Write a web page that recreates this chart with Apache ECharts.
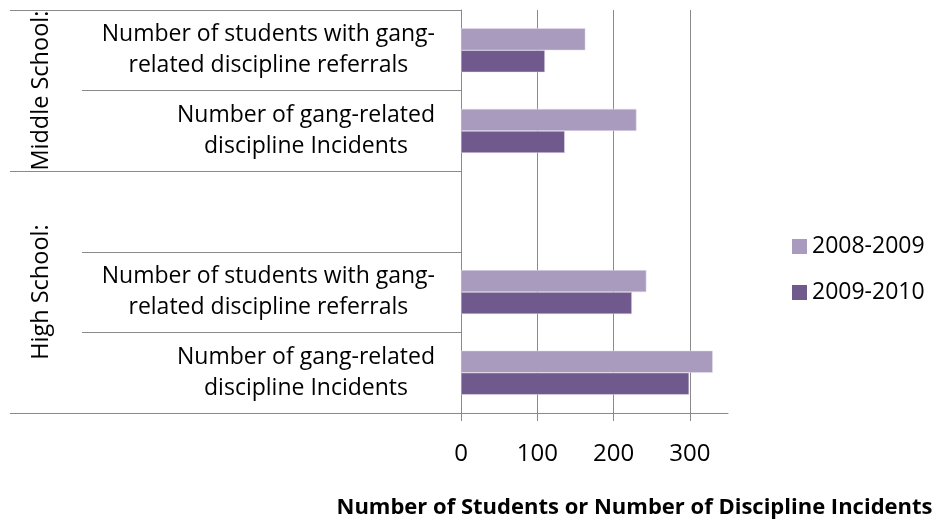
<!DOCTYPE html>
<html>
<head>
<meta charset="utf-8">
<script src="https://cdn.jsdelivr.net/npm/echarts@6/dist/echarts.min.js"></script>
<style>
html, body { margin: 0; padding: 0; background: #fff; }
#chart { width: 935px; height: 523px; }
</style>
</head>
<body>
<div id="chart"></div>
<script>
(function(){
    // data
    var categories = [
        'Number of students with gang-\nrelated discipline referrals',
        'Number of gang-related\ndiscipline Incidents',
        '',
        'Number of students with gang-\nrelated discipline referrals',
        'Number of gang-related\ndiscipline Incidents'
    ];
    var groupNames = ['Middle School:', 'High School:'];
    var groupSizes = [2, 3];
    var seriesNames = ['2008-2009', '2009-2010'];
    var values0809 = [163, 230, null, 243, 330];
    var values0910 = [110, 136, null, 224, 299];
    var xTicks = [0, 100, 200, 300];
    var xMax = 350;

    var font = 'Open Sans';
    var gridColor = '#8a8a8a';

    // group boundaries / middles on a 0..n scale
    var bounds = [0], mids = [];
    groupSizes.forEach(function(s, i) {
        mids.push(bounds[i] + s / 2);
        bounds.push(bounds[i] + s);
    });

    // split line colours: hide the one at the max edge
    var splitColors = xTicks.map(function() { return gridColor; });
    splitColors.push('rgba(0,0,0,0)');

    var dom = document.getElementById('chart');
    var myChart = echarts.init(dom);
    var option = {
        animation: false,
        grid: { left: 461, right: 207, top: 10, bottom: 110, outerBoundsMode: 'none' },
        legend: {
            orient: 'vertical',
            left: 787,
            top: 230,
            itemWidth: 15,
            itemHeight: 15,
            itemGap: 23,
            icon: 'rect',
            itemStyle: { borderWidth: 0 },
            textStyle: { fontFamily: font, fontSize: 23, color: '#000' },
            data: seriesNames
        },
        xAxis: {
            type: 'value',
            min: 0,
            max: xMax,
            interval: 100,
            name: 'Number of Students or Number of Discipline Incidents',
            nameLocation: 'middle',
            nameGap: 84,
            nameTextStyle: {
                fontFamily: font, fontSize: 22, fontWeight: 'bold', color: '#000',
                padding: [0, 0, 0, 80]
            },
            axisLine: { show: true, onZero: false, lineStyle: { color: gridColor, width: 1 } },
            axisTick: { show: true, customValues: xTicks, length: 8, lineStyle: { color: gridColor } },
            axisLabel: {
                customValues: xTicks,
                margin: 29,
                fontFamily: font, fontSize: 24, color: '#000'
            },
            splitLine: { show: true, lineStyle: { color: splitColors, width: 1 } }
        },
        yAxis: [
            {
                type: 'category',
                inverse: true,
                data: categories,
                axisLine: { show: true, onZero: false, lineStyle: { color: gridColor } },
                axisTick: { show: true, length: 379, lineStyle: { color: gridColor } },
                axisLabel: {
                    interval: 0,
                    margin: 26,
                    fontFamily: font, fontSize: 23, color: '#000', lineHeight: 31,
                    formatter: function(v) {
                        if (!v) return '';
                        return v.split('\n').map(function(s) { return '{c|' + s + '}'; }).join('\n');
                    },
                    rich: {
                        c: { align: 'center', fontFamily: font, fontSize: 23, color: '#000', lineHeight: 31 }
                    }
                },
                splitLine: { show: false }
            },
            {
                type: 'value',
                inverse: true,
                min: 0,
                max: categories.length,
                position: 'left',
                axisLine: { show: false, onZero: false },
                axisTick: { show: true, customValues: bounds, length: 451, lineStyle: { color: gridColor } },
                axisLabel: {
                    customValues: mids,
                    rotate: 90,
                    margin: 408,
                    fontFamily: font, fontSize: 23.5, color: '#000',
                    formatter: function(v) {
                        var i = mids.indexOf(v);
                        return i >= 0 ? groupNames[i] : '';
                    }
                },
                splitLine: { show: false }
            }
        ],
        series: [
            {
                name: seriesNames[0],
                type: 'bar',
                data: values0809,
                barWidth: 22,
                barGap: '0%',
                itemStyle: { color: '#a99bbd', borderColor: '#e4deec', borderWidth: 0.5 }
            },
            {
                name: seriesNames[1],
                type: 'bar',
                data: values0910,
                barWidth: 22,
                barGap: '0%',
                itemStyle: { color: '#705a8d', borderColor: '#e4deec', borderWidth: 0.5 }
            }
        ]
    };
    myChart.setOption(option);
})();
</script>
</body>
</html>
